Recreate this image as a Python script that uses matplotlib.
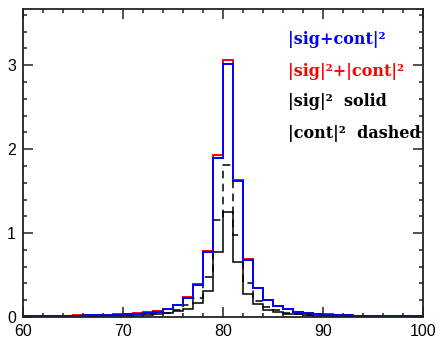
import numpy as np
import matplotlib
matplotlib.use("Agg")
import matplotlib.pyplot as plt
from matplotlib.ticker import MultipleLocator

# bin edges (1 unit wide, 60..100)
edges = np.arange(60, 101, 1)

# |sig+cont|^2  (blue)
sig_plus_cont = [0.010, 0.010, 0.011, 0.012, 0.014, 0.016, 0.018, 0.020, 0.024, 0.028,
                 0.033, 0.040, 0.050, 0.065, 0.090, 0.140, 0.230, 0.380, 0.780, 1.900,
                 3.020, 1.620, 0.680, 0.340, 0.200, 0.130, 0.090, 0.060, 0.045, 0.035,
                 0.028, 0.022, 0.018, 0.015, 0.013, 0.011, 0.010, 0.009, 0.008, 0.007]

# |sig|^2 + |cont|^2  (red)
sig2_plus_cont2 = [0.012, 0.012, 0.013, 0.014, 0.016, 0.018, 0.021, 0.024, 0.028, 0.033,
                   0.039, 0.046, 0.057, 0.072, 0.097, 0.148, 0.240, 0.392, 0.790, 1.930,
                   3.060, 1.635, 0.690, 0.345, 0.203, 0.133, 0.093, 0.064, 0.049, 0.038,
                   0.030, 0.024, 0.019, 0.016, 0.014, 0.012, 0.011, 0.010, 0.009, 0.008]

# |sig|^2  (black solid)
sig2 = [0.003, 0.003, 0.004, 0.004, 0.005, 0.006, 0.007, 0.008, 0.009, 0.010,
        0.012, 0.015, 0.020, 0.030, 0.045, 0.070, 0.100, 0.170, 0.310, 0.780,
        1.250, 0.660, 0.280, 0.150, 0.080, 0.055, 0.040, 0.030, 0.022, 0.017,
        0.013, 0.010, 0.008, 0.007, 0.006, 0.005, 0.004, 0.004, 0.003, 0.003]

# |cont|^2  (black dashed)
cont2 = [0.009, 0.009, 0.009, 0.010, 0.011, 0.012, 0.014, 0.016, 0.019, 0.023,
         0.027, 0.031, 0.037, 0.042, 0.052, 0.078, 0.140, 0.222, 0.480, 1.150,
         1.810, 0.975, 0.410, 0.195, 0.123, 0.078, 0.053, 0.034, 0.027, 0.021,
         0.017, 0.014, 0.011, 0.009, 0.008, 0.007, 0.007, 0.006, 0.006, 0.005]

labels = ["|sig+cont|²", "|sig|²+|cont|²", "|sig|²  solid", "|cont|²  dashed"]
label_colors = ["blue", "red", "black", "black"]

fig = plt.figure(figsize=(4.41, 3.41), dpi=100)
ax = fig.add_axes([23/441, 24/341, 400/441, 308/341])

ax.stairs(sig2, edges, baseline=None, color="black", lw=1.1)
ax.stairs(cont2, edges, baseline=None, color="black", lw=1.1, linestyle=(0, (5, 3.5)))
ax.stairs(sig2_plus_cont2, edges, baseline=None, color="red", lw=1.4)
ax.stairs(sig_plus_cont, edges, baseline=None, color="blue", lw=1.4)

ax.set_xlim(60, 100)
ax.set_ylim(0, 3.67)
ax.xaxis.set_major_locator(MultipleLocator(10))
ax.xaxis.set_minor_locator(MultipleLocator(2))
ax.yaxis.set_major_locator(MultipleLocator(1))
ax.yaxis.set_minor_locator(MultipleLocator(0.2))
ax.tick_params(which="both", direction="in", top=True, right=True,
               width=1.1, color="#222222")
ax.tick_params(which="major", length=7, labelsize=11.5)
ax.tick_params(axis="x", which="major", pad=5)
ax.tick_params(axis="y", which="major", pad=5)
ax.tick_params(which="minor", length=3.2)
for lab in ax.get_xticklabels() + ax.get_yticklabels():
    lab.set_family("Liberation Sans")
for s in ax.spines.values():
    s.set_linewidth(1.3)
    s.set_color("#222222")

for i, (t, c) in enumerate(zip(labels, label_colors)):
    fig.text(288/441, 1 - (40 + 31*i)/341, t, color=c, fontsize=11.5,
             fontweight="bold", family="DejaVu Serif", va="center", ha="left")

fig.savefig("out.png", dpi=100)
